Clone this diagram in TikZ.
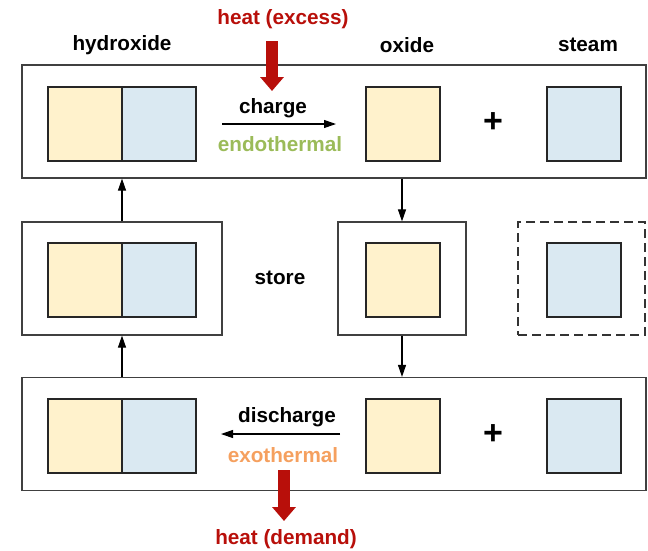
\documentclass[tikz,border=0pt]{standalone}
\usepackage{fontspec}
\setmainfont{Liberation Sans}
\usetikzlibrary{arrows.meta}
\definecolor{fillY}{HTML}{FFF2CC}
\definecolor{fillB}{HTML}{DAE9F2}
\definecolor{heatred}{HTML}{B80F0A}
\definecolor{endogreen}{HTML}{9BBB59}
\definecolor{exoorange}{HTML}{F5A05F}
\begin{document}
\begin{tikzpicture}[x=1pt,y=-1pt,
  frame/.style={draw=black!75, line width=1.2pt, minimum height=113pt, inner sep=0pt},
  dframe/.style={draw=black!80, line width=1.4pt, dash pattern=on 9pt off 5pt, minimum height=113pt, inner sep=0pt},
  sqY/.style={draw=black!85, fill=fillY, line width=2pt, minimum width=74pt, minimum height=74pt, inner sep=0pt},
  sqB/.style={draw=black!85, fill=fillB, line width=2pt, minimum width=74pt, minimum height=74pt, inner sep=0pt},
  lbl/.style={font=\fontsize{20.7}{24}\selectfont\bfseries, inner sep=0pt},
  plus/.style={font=\fontsize{34}{36}\selectfont\bfseries, inner sep=0pt},
  flow/.style={-{Triangle[length=12pt,width=8pt]}, line width=1.1pt},
  heatarrow/.style={draw=heatred, line width=11.5pt, -{Triangle[length=14pt,width=23pt]}}]
\useasboundingbox (0,0) rectangle (648,550);

% frames
\node[frame, minimum width=624pt] (top) at (334,121.5) {};
\node[frame, minimum width=200pt] (midL) at (122,278.5) {};
\node[frame, minimum width=128pt] (midM) at (402,278.5) {};
\node[dframe, minimum width=127pt] (midR) at (581.5,278.5) {};
\node[frame, minimum width=624pt] (bot) at (334,434) {};

% top row squares
\node[sqY] (tY) at (85,124) {};
\node[sqB] (tB) at (159,124) {};
\node[sqY] (tO) at (403,124) {};
\node[sqB] (tS) at (584,124) {};
% middle row squares
\node[sqY] (mY) at (85,280) {};
\node[sqB] (mB) at (159,280) {};
\node[sqY] (mO) at (403,280) {};
\node[sqB] (mS) at (584,280) {};
% bottom row squares
\node[sqY] (bY) at (85,436) {};
\node[sqB] (bB) at (159,436) {};
\node[sqY] (bO) at (403,436) {};
\node[sqB] (bS) at (584,436) {};

% labels
\node[lbl] (lh) at (122,45) {hydroxide};
\node[lbl] (lo) at (407,45) {oxide};
\node[lbl] (ls) at (588,45) {steam};
\node[lbl, text=heatred] (hx) at (283,19) {heat (excess)};
\node[lbl, text=heatred] (hd) at (286,539) {heat (demand)};
\node[lbl] (st) at (280,278) {store};
\node[lbl] (ch) at (273,108) {charge};
\node[lbl, text=endogreen] (en) at (280,144) {endothermal};
\node[lbl] (dc) at (287,417) {discharge};
\node[lbl, text=exoorange] (ex) at (283,455) {exothermal};
\node[plus] (p1) at (493,123) {+};
\node[plus] (p2) at (493,435) {+};

% reaction arrows
\coordinate (c1) at (222,124);
\coordinate (c2) at (336,124);
\coordinate (d1) at (340,434);
\coordinate (d2) at (221,434);
\draw[flow] (c1) -- (c2);
\draw[flow] (d1) -- (d2);

% heat arrows
\coordinate (h1) at (272,41);
\coordinate (h2) at (272,91);
\coordinate (h3) at (284,470);
\coordinate (h4) at (284,521);
\draw[heatarrow] (h1) -- (h2);
\draw[heatarrow] (h3) -- (h4);

% cycle connectors
\draw[flow] (midL.north) -- (midL.north |- top.south);
\draw[flow] (midM.north |- top.south) -- (midM.north);
\draw[flow] (midL.south |- bot.north) -- (midL.south);
\draw[flow] (midM.south) -- (midM.south |- bot.north);
\end{tikzpicture}
\end{document}
